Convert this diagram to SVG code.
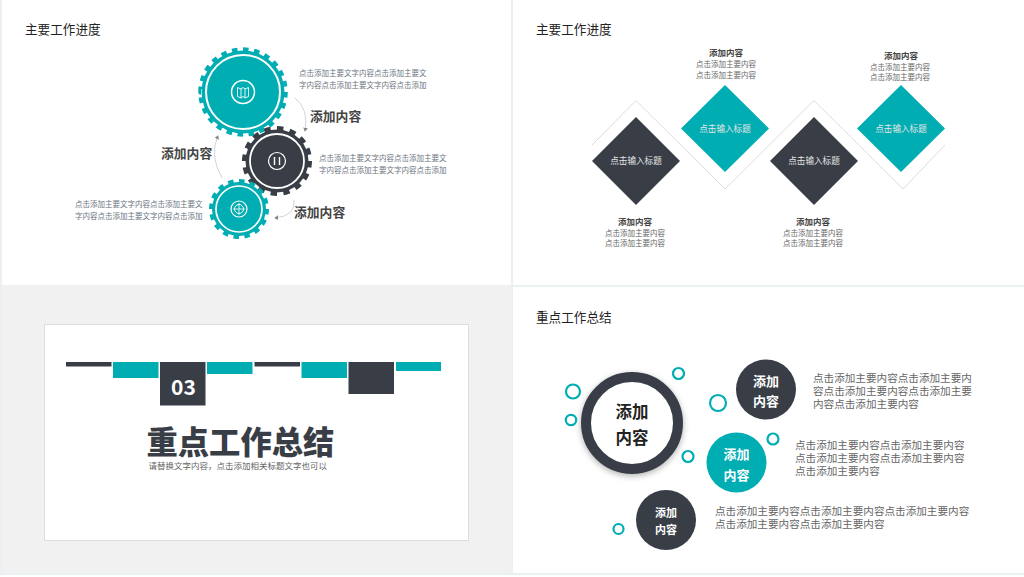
<svg xmlns="http://www.w3.org/2000/svg" width="1024" height="577" viewBox="0 0 1024 577">
<defs>
<marker id="ah" markerWidth="6" markerHeight="6" refX="4" refY="3" orient="auto"><path d="M0 0L5 3L0 6z" fill="#888"/></marker>
<filter id="sh" x="-20%" y="-20%" width="140%" height="140%"><feDropShadow dx="0" dy="2" stdDeviation="3" flood-color="#000" flood-opacity=".3"/></filter>
</defs>
<style>
text{font-family:"Noto Sans CJK SC","Liberation Sans",sans-serif}
.h{font-size:12.6px;fill:#222}
.t{fill:#00adb2}.d{fill:#393e46}
.r{fill:none;stroke:#fff}
.s{font-size:7.5px;fill:#6a7480}
.b{font-size:12.800px;font-weight:700;fill:#444}
.c{font-size:7.5px;fill:#666;text-anchor:middle}
.cb{font-size:8.5px;font-weight:700;fill:#444;text-anchor:middle}
.w{font-size:8.6px;fill:#e6e6e6;text-anchor:middle}
.ln{fill:none;stroke:#ddd;stroke-width:1}
.ar{fill:none;stroke:#c8c8c8;stroke-width:.8;marker-end:url(#ah)}
.o{fill:none;stroke:#00adb2;stroke-width:2.2}
.p{font-size:10.6px;fill:#666}
</style>
<rect width="1024" height="577" fill="#ebf0f3"/>
<rect x="2" y="0" width="509" height="285" fill="#fff"/>
<rect x="513" y="0" width="511" height="285" fill="#fff"/>
<rect x="2" y="285" width="509" height="288" fill="#f1f1f1"/>
<rect x="513" y="287" width="511" height="286" fill="#fff"/>
<rect x="0" y="575" width="1024" height="2" fill="#fff"/>
<rect x="44.500" y="324.500" width="424" height="216" fill="#fff" stroke="#ddd"/>
<text class="h" x="25" y="34">主要工作进度</text>
<text class="h" x="536" y="34">主要工作进度</text>
<text class="h" x="536" y="322">重点工作总结</text>
<g id="connectors">
<path class="ar" d="M295 98Q309 109 305 131"/>
<path class="ar" d="M222 178Q209 155 218 136"/>
<path class="ar" d="M294 200Q296 216 275 218"/>
</g>
<g id="gear1">
<circle class="t" cx="243" cy="92" r="41.500"/>
<circle cx="243" cy="92" r="42" fill="none" stroke="#00adb2" stroke-width="5.500" pathLength="48" stroke-dasharray="1 1"/>
<circle class="r" cx="243" cy="92" r="37" stroke-width="2"/>
<circle class="r" cx="243" cy="92" r="11.500" stroke-width="1.500"/>
<path class="r" d="M237.500 87.500l3.500 1.500l2-1.500l2 1.500l3.500-1.500v9l-3.500 1.500l-2-1.500l-2 1.500l-3.500-1.500zM241 89v9M245 89v9" stroke-width=".9"/>
</g>
<g id="gear2">
<circle class="d" cx="277" cy="161" r="31.500"/>
<circle cx="277" cy="161" r="32" fill="none" stroke="#393e46" stroke-width="6" pathLength="32" stroke-dasharray="1 1"/>
<circle class="r" cx="277" cy="161" r="27" stroke-width="1.800"/>
<circle class="r" cx="277" cy="161" r="8.500" stroke-width="1.200"/>
<path class="r" d="M274.500 157v8M279.500 157v8" stroke-width="1.400"/>
</g>
<g id="gear3">
<circle class="t" cx="239" cy="209" r="27"/>
<circle cx="239" cy="209" r="27.500" fill="none" stroke="#00adb2" stroke-width="5" pathLength="32" stroke-dasharray="1 1"/>
<circle class="r" cx="239" cy="209" r="23" stroke-width="1.700"/>
<circle class="r" cx="239" cy="209" r="8" stroke-width="1.200"/>
<circle class="r" cx="239" cy="209" r="4.500" stroke-width="1"/>
<path class="r" d="M239 203v12M233 209h12" stroke-width=".8"/>
</g>
<g id="gear-text">
<text class="s" x="299" y="76">点击添加主要文字内容点击添加主要文</text>
<text class="s" x="299" y="88">字内容点击添加主要文字内容点击添加</text>
<text class="s" x="319" y="161">点击添加主要文字内容点击添加主要文</text>
<text class="s" x="319" y="173">字内容点击添加主要文字内容点击添加</text>
<text class="s" x="75" y="207">点击添加主要文字内容点击添加主要文</text>
<text class="s" x="75" y="219">字内容点击添加主要文字内容点击添加</text>
<text class="b" x="310" y="121">添加内容</text>
<text class="b" x="161" y="158">添加内容</text>
<text class="b" x="294" y="217">添加内容</text>
</g>
<polyline class="ln" points="592,145 636,100.500 725,189 814,100.500 903,189 945,145"/>
<g id="d1"><path class="d" d="M636 117L680 161L636 205L592 161z"/><text class="w" x="636" y="164">点击输入标题</text></g>
<g id="d2"><path class="t" d="M725 85L769 128.500L725 172L681 128.500z"/><text class="w" x="725" y="132">点击输入标题</text></g>
<g id="d3"><path class="d" d="M814 117L858 161L814 205L770 161z"/><text class="w" x="814" y="164">点击输入标题</text></g>
<g id="d4"><path class="t" d="M901 85L945 128.500L901 172L857 128.500z"/><text class="w" x="901" y="132">点击输入标题</text></g>
<g id="d-text">
<text class="cb" x="726" y="56">添加内容</text><text class="c" x="726" y="67">点击添加主要内容</text><text class="c" x="726" y="78">点击添加主要内容</text>
<text class="cb" x="901" y="59">添加内容</text><text class="c" x="900" y="70">点击添加主要内容</text><text class="c" x="900" y="80">点击添加主要内容</text>
<text class="cb" x="635" y="225">添加内容</text><text class="c" x="635" y="236">点击添加主要内容</text><text class="c" x="635" y="246">点击添加主要内容</text>
<text class="cb" x="813" y="225">添加内容</text><text class="c" x="813" y="236">点击添加主要内容</text><text class="c" x="813" y="246">点击添加主要内容</text>
</g>
<g id="bars">
<rect class="d" x="66" y="362" width="45.500" height="4.500"/>
<rect class="t" x="113" y="362" width="45.500" height="16"/>
<rect class="d" x="160" y="362" width="45.500" height="43.500"/>
<rect class="t" x="207" y="362" width="45.500" height="12"/>
<rect class="d" x="254.500" y="362" width="45.500" height="4.500"/>
<rect class="t" x="301.500" y="362" width="45.500" height="16"/>
<rect class="d" x="348.500" y="362" width="45.500" height="32"/>
<rect class="t" x="396" y="362" width="45" height="9"/>
<text x="183.500" y="395" font-size="21" font-weight="700" fill="#fff" text-anchor="middle">03</text>
</g>
<text x="146.500" y="454" font-size="31.300" font-weight="900" fill="#393e46">重点工作总结</text>
<text x="148.500" y="469" font-size="8.500" fill="#666">请替换文字内容，点击添加相关标题文字也可以</text>
<g id="hub"><circle cx="632" cy="423" r="46" fill="#fff" stroke="#393e46" stroke-width="10" filter="url(#sh)"/>
<text x="632" y="418" font-size="16.500" font-weight="700" fill="#222" text-anchor="middle">添加</text><text x="632" y="444" font-size="16.500" font-weight="700" fill="#222" text-anchor="middle">内容</text></g>
<g id="n1"><circle class="d" cx="766" cy="389.500" r="30"/><text x="766" y="386" font-size="13" font-weight="700" fill="#fff" text-anchor="middle">添加</text><text x="766" y="406" font-size="13" font-weight="700" fill="#fff" text-anchor="middle">内容</text></g>
<g id="n2"><circle class="t" cx="736.500" cy="462.500" r="30"/><text x="736.500" y="459" font-size="13" font-weight="700" fill="#fff" text-anchor="middle">添加</text><text x="736.500" y="480" font-size="13" font-weight="700" fill="#fff" text-anchor="middle">内容</text></g>
<g id="n3"><circle class="d" cx="666" cy="520" r="30"/><text x="666" y="517" font-size="11" font-weight="700" fill="#fff" text-anchor="middle">添加</text><text x="666" y="534" font-size="11" font-weight="700" fill="#fff" text-anchor="middle">内容</text></g>
<g id="dots">
<circle class="o" cx="573" cy="391.500" r="7"/><circle class="o" cx="571" cy="420" r="5.200"/><circle class="o" cx="678.500" cy="373.500" r="5.500"/>
<circle class="o" cx="718" cy="403" r="8"/><circle class="o" cx="773" cy="439" r="5.500"/><circle class="o" cx="688" cy="456.500" r="5.500"/><circle class="o" cx="618.500" cy="529" r="5"/>
</g>
<g id="para">
<text class="p" x="813" y="382">点击添加主要内容点击添加主要内</text><text class="p" x="813" y="395">容点击添加主要内容点击添加主要</text><text class="p" x="813" y="407.500">内容点击添加主要内容</text>
<text class="p" x="795" y="449">点击添加主要内容点击添加主要内容</text><text class="p" x="795" y="462">点击添加主要内容点击添加主要内容</text><text class="p" x="795" y="475">点击添加主要内容</text>
<text class="p" x="715" y="515">点击添加主要内容点击添加主要内容点击添加主要内容</text><text class="p" x="715" y="528">点击添加主要内容点击添加主要内容</text>
</g>
</svg>
